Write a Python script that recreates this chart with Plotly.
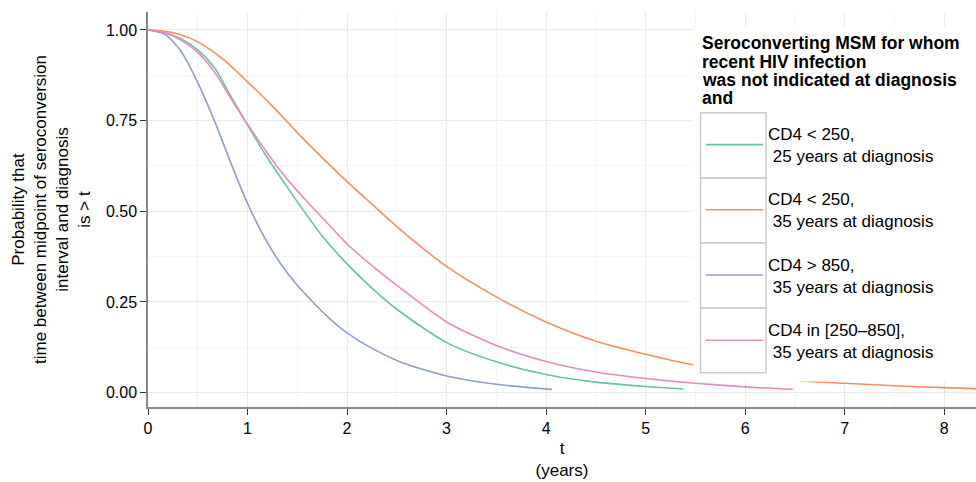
import plotly.graph_objects as go

# ---- data ----
series_names = [
    "CD4 < 250,<br>\u00a025 years at diagnosis",
    "CD4 < 250,<br>\u00a035 years at diagnosis",
    "CD4 > 850,<br>\u00a035 years at diagnosis",
    "CD4 in [250\u2013850],<br>\u00a035 years at diagnosis",
]
series_colors = ["#66C2A5", "#FC8D62", "#8DA0CB", "#E78AC3"]

t_green = [0, 0.17, 0.33, 0.5, 0.67, 0.83, 1.0, 1.17, 1.39, 1.56, 1.75, 2.0, 2.25, 2.5,
           3.0, 3.5, 4.0, 4.5, 5.0, 5.38]
p_green = [1.0, 0.993, 0.976, 0.945, 0.895, 0.818, 0.738, 0.66, 0.57, 0.503, 0.432, 0.355,
           0.288, 0.23, 0.138, 0.085, 0.050, 0.029, 0.017, 0.010]

t_orange = [0, 0.17, 0.33, 0.5, 0.75, 1.0, 1.25, 1.5, 1.75, 2.0, 2.25, 2.5, 3.0, 3.5, 4.0,
            4.5, 5.0, 5.47, 6.0, 6.5, 6.65, 7.0, 7.5, 8.0, 8.33]
p_orange = [1.0, 0.9966, 0.987, 0.967, 0.92, 0.857, 0.79, 0.717, 0.648, 0.582, 0.52, 0.458,
            0.348, 0.264, 0.195, 0.142, 0.106, 0.077, 0.052, 0.035, 0.031, 0.026, 0.019,
            0.014, 0.011]

t_blue = [0, 0.17, 0.33, 0.5, 0.67, 0.83, 1.0, 1.17, 1.33, 1.5, 1.67, 1.83, 2.0, 2.25, 2.5,
          2.75, 3.0, 3.5, 4.06]
p_blue = [1.0, 0.988, 0.942, 0.855, 0.748, 0.635, 0.522, 0.428, 0.357, 0.296, 0.246, 0.203,
          0.165, 0.122, 0.089, 0.065, 0.046, 0.023, 0.009]

t_pink = [0, 0.17, 0.33, 0.5, 0.67, 0.83, 1.0, 1.17, 1.33, 1.5, 1.69, 1.93, 2.0, 2.25, 2.5,
          3.0, 3.5, 4.0, 4.5, 5.0, 5.5, 6.0, 6.48]
p_pink = [1.0, 0.992, 0.972, 0.938, 0.883, 0.812, 0.740, 0.672, 0.612, 0.556, 0.50, 0.43,
          0.41, 0.35, 0.296, 0.195, 0.130, 0.086, 0.057, 0.039, 0.026, 0.016, 0.009]

x_ticks = [0, 1, 2, 3, 4, 5, 6, 7, 8]
y_ticks = [0.0, 0.25, 0.5, 0.75, 1.0]
y_tick_labels = ["0.00", "0.25", "0.50", "0.75", "1.00"]

legend_title_lines = ["Seroconverting MSM for whom", "recent HIV infection",
                      "was not indicated at diagnosis", "and"]
x_title = "t<br>(years)"
y_title = ("Probability that<br>time between midpoint of seroconversion<br>"
           "interval and diagnosis<br>is > t")

xs = [t_green, t_orange, t_blue, t_pink]
ys = [p_green, p_orange, p_blue, p_pink]

fig = go.Figure()
for i, (x, y) in enumerate(zip(xs, ys)):
    fig.add_trace(go.Scatter(
        x=x, y=y, mode="lines", name=series_names[i],
        legendgroup=str(i),
        line=dict(color=series_colors[i], width=1.6, shape="spline", smoothing=0.7),
        hoverinfo="skip",
    ))

FONT = "Liberation Sans, Arial, Helvetica, sans-serif"

# legend background and key boxes (decoration, paper coordinates)
shapes = [dict(type="rect", xref="paper", yref="paper", x0=0.658, x1=1.05,
               y0=0.0646, y1=0.9595, fillcolor="white", line=dict(width=0), layer="above")]
box_edges = [0.7451, 0.5797, 0.4159, 0.2506, 0.0868]
for k in range(4):
    shapes.append(dict(type="rect", xref="paper", yref="paper", x0=0.6673, x1=0.7464,
                       y0=box_edges[k + 1], y1=box_edges[k], fillcolor="rgba(0,0,0,0)",
                       line=dict(color="#cccccc", width=1.5), layer="above"))

# legend title, one line per annotation (tight line spacing like the reference)
title_rows = [0.9203, 0.8739, 0.8276, 0.7813]
annotations = [dict(text=line, xref="paper", yref="paper", x=0.6666, y=yy,
                    xanchor="left", yanchor="middle", showarrow=False,
                    font=dict(size=17.5, family=FONT, weight="bold", color="#000000"))
               for line, yy in zip(legend_title_lines, title_rows)]

fig.update_layout(
    width=976, height=482,
    margin=dict(l=148, r=0, t=12, b=75),
    plot_bgcolor="white", paper_bgcolor="white",
    font=dict(family=FONT, size=16, color="#000000"),
    shapes=shapes,
    annotations=annotations,
    showlegend=True,
    legend=dict(
        x=0.6679, y=0.7367, xanchor="left", yanchor="top",
        bgcolor="rgba(0,0,0,0)", borderwidth=0,
        font=dict(size=17, family=FONT),
        tracegroupgap=18, itemwidth=57,
    ),
    xaxis=dict(
        range=[0, 8.32], tickvals=x_ticks, ticks="outside", ticklen=6, tickcolor="#333333",
        showline=True, linecolor="#888888", linewidth=1.5, automargin=False,
        showgrid=True, gridcolor="#ebebeb", gridwidth=1, zeroline=False,
        minor=dict(dtick=0.5, tick0=0, showgrid=True, gridcolor="#f5f5f5", gridwidth=1),
        tickfont=dict(size=16), title=dict(text=x_title, font=dict(size=17), standoff=6),
    ),
    yaxis=dict(
        range=[-0.0395, 1.0495], tickvals=y_ticks, ticktext=y_tick_labels,
        ticks="outside", ticklen=6, tickcolor="#333333",
        showline=True, linecolor="#888888", linewidth=1.5, automargin=False,
        showgrid=True, gridcolor="#ebebeb", gridwidth=1, zeroline=False,
        minor=dict(dtick=0.125, tick0=0, showgrid=True, gridcolor="#f5f5f5", gridwidth=1),
        tickfont=dict(size=16),
        title=dict(text=y_title, font=dict(size=17), standoff=11),
    ),
)

# remove the default page margin so the figure fills the 976x482 window exactly
fig.write_html(
    "out.html",
    config={"displayModeBar": False},
    post_script="document.body.style.margin='0';document.body.style.overflow='hidden';",
)
